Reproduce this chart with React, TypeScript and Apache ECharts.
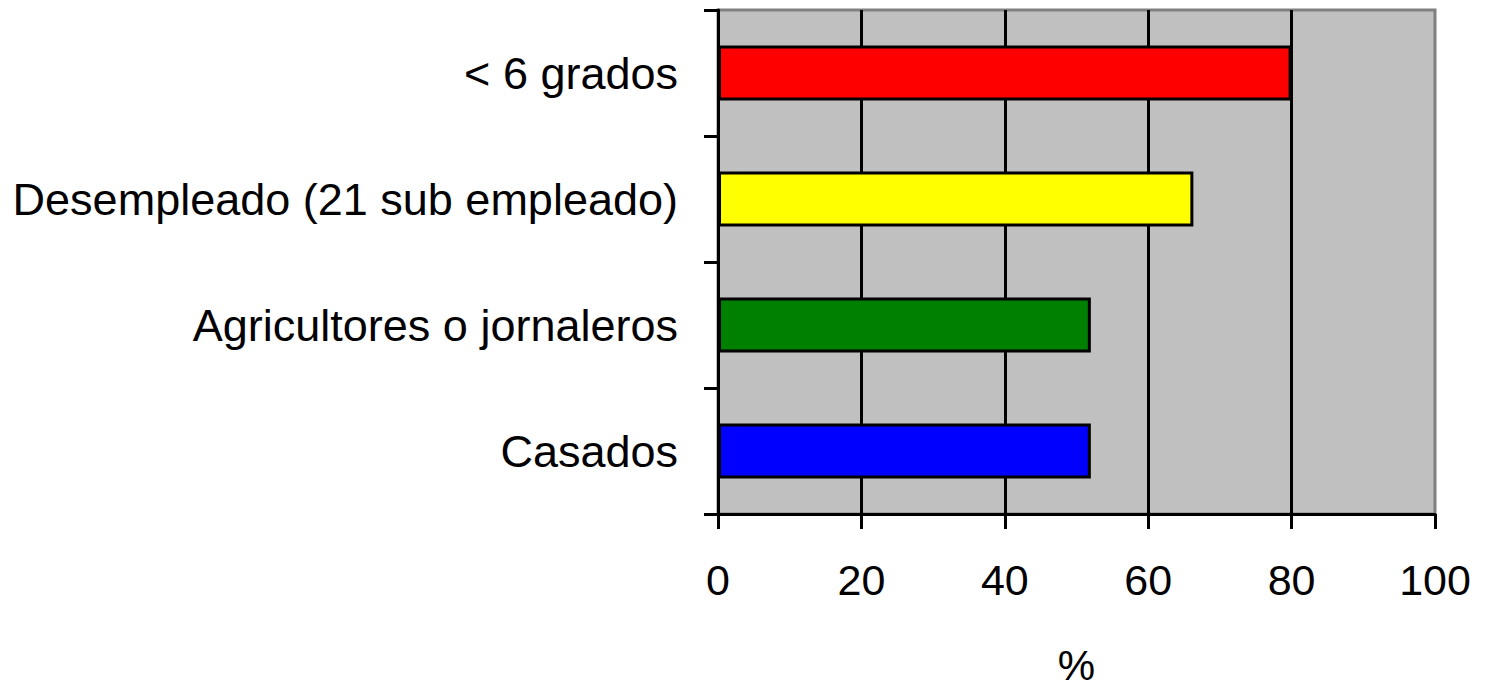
import React, { useEffect, useRef } from "react";
import * as echarts from "echarts";

const categories = ["Casados", "Agricultores o jornaleros", "Desempleado (21 sub empleado)", "< 6 grados"];
const values = [52, 52, 66.3, 80];
const barColors = ["#0000FF", "#008000", "#FFFF00", "#FF0000"];
const xTicks = [0, 20, 40, 60, 80, 100];

const FONT = "'Liberation Sans', Arial, sans-serif";

export default function App() {
  const ref = useRef<HTMLDivElement>(null);
  useEffect(() => {
    if (!ref.current) return;
    const chart = echarts.init(ref.current, null, { renderer: "svg" });
    chart.setOption({
      animation: false,
      backgroundColor: "#FFFFFF",
      grid: {
        left: 718,
        top: 10,
        right: 50,
        bottom: 176,
        outerBoundsMode: "none",
        containLabel: false,
        show: true,
        backgroundColor: "#C0C0C0",
        borderColor: "#808080",
        borderWidth: 3,
      },
      xAxis: {
        type: "value",
        min: xTicks[0],
        max: xTicks[xTicks.length - 1],
        interval: 20,
        name: "%",
        nameLocation: "middle",
        nameGap: 151,
        nameTextStyle: {
          fontFamily: FONT,
          fontSize: 42,
          lineHeight: 34,
          verticalAlign: "middle",
          color: "#000",
        },
        axisLine: { show: true, lineStyle: { color: "#000", width: 3 } },
        axisTick: { show: true, length: 15, lineStyle: { color: "#000", width: 3 } },
        axisLabel: { margin: 44, fontFamily: FONT, fontSize: 43, color: "#000" },
        splitLine: { show: true, showMinLine: false, showMaxLine: false, lineStyle: { color: "#000", width: 3 } },
      },
      yAxis: {
        type: "category",
        data: categories,
        axisLine: { show: true, lineStyle: { color: "#000", width: 3 } },
        axisTick: { show: true, length: 14, lineStyle: { color: "#000", width: 3 } },
        axisLabel: { margin: 40, fontFamily: FONT, fontSize: 45, color: "#000" },
        splitLine: { show: false },
      },
      series: [
        {
          type: "bar",
          barWidth: 55,
          data: values.map((v, i) => ({
            value: v,
            itemStyle: { color: barColors[i], borderColor: "#000", borderWidth: 3 },
          })),
        },
      ],
    });
    return () => chart.dispose();
  }, []);
  return (
    <div
      ref={ref}
      style={{ position: "absolute", left: 0, top: 0, width: 1485, height: 690 }}
    />
  );
}
